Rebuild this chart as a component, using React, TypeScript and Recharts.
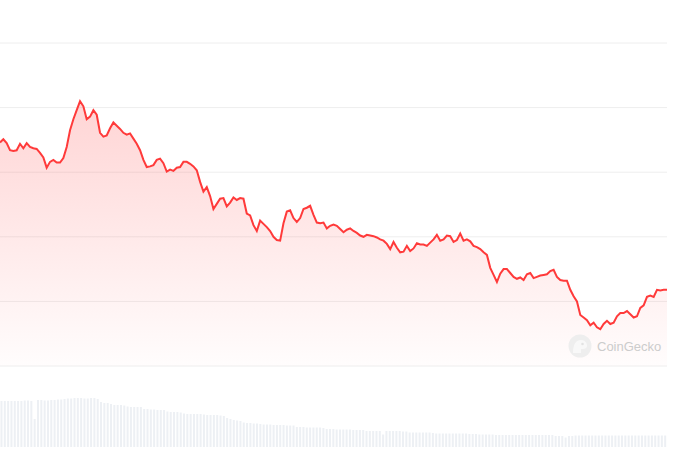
import { AreaChart, Area, BarChart, Bar, XAxis, YAxis, CartesianGrid } from "recharts";

// price readings, one per day, left to right
const prices = [
  34.6, 35.1, 34.5, 33.4, 33.3, 33.4, 34.4, 33.7, 34.5, 33.9,
  33.7, 33.6, 33.0, 32.3, 30.7, 31.6, 31.9, 31.5, 31.5, 32.2,
  33.9, 36.5, 38.2, 39.6, 41.0, 40.2, 38.2, 38.6, 39.6, 38.9,
  36.1, 35.5, 35.7, 36.8, 37.7, 37.2, 36.7, 36.1, 35.8, 36.0,
  35.2, 34.4, 33.4, 31.9, 30.8, 30.9, 31.1, 31.9, 32.1, 31.4,
  30.1, 30.4, 30.2, 30.7, 30.8, 31.6, 31.6, 31.3, 30.9, 30.3,
  28.5, 27.0, 27.7, 26.3, 24.3, 25.1, 25.9, 26.0, 24.7, 25.3,
  26.1, 25.7, 26.0, 25.9, 23.6, 23.3, 21.8, 20.9, 22.5, 22.0,
  21.5, 20.9, 20.0, 19.5, 19.4, 22.1, 23.9, 24.1, 22.9, 22.3,
  22.9, 24.3, 24.5, 24.8, 23.4, 22.2, 22.1, 22.2, 21.3, 21.7,
  21.9, 21.7, 21.2, 20.7, 21.1, 21.3, 20.9, 20.6, 20.2, 20.0,
  20.3, 20.2, 20.1, 19.9, 19.6, 19.4, 18.9, 18.1, 19.2, 18.3,
  17.6, 17.7, 18.6, 17.8, 18.2, 19.0, 18.8, 18.8, 18.6, 19.1,
  19.6, 20.3, 19.4, 19.6, 20.2, 20.1, 19.2, 19.5, 20.5, 19.4,
  19.6, 19.3, 18.6, 18.4, 18.1, 17.6, 17.2, 15.2, 14.1, 13.0,
  14.3, 15.0, 15.0, 14.4, 13.8, 13.5, 13.7, 13.3, 14.2, 14.4,
  13.6, 13.8, 14.0, 14.1, 14.2, 14.7, 14.9, 13.8, 13.3, 13.2,
  13.2, 11.8, 10.8, 10.0, 7.9, 7.5, 7.1, 6.3, 6.7, 6.0,
  5.7, 6.5, 7.0, 6.5, 6.7, 7.7, 8.2, 8.2, 8.5, 8.0,
  7.5, 7.7, 9.0, 9.4, 10.7, 10.9, 10.7, 11.8, 11.7, 11.8,
  11.8,
];

const volumes = [
  46, 46, 46, 46, 46, 46, 46, 46.5, 46.5, 46,
  28,
  47, 47, 46.5, 46.5, 47, 47, 47.5, 47.5, 48,
  48.5, 48.5, 49, 49, 49, 48.5, 48.5, 49, 49, 48,
  45, 44, 44,
  43, 42, 42, 42, 41.5,
  40.5, 40, 40, 40, 40,
  38, 38, 37.5, 37.5, 37, 37, 37,
  35.5, 35, 35, 35, 34.5,
  33.5, 33, 33, 33, 33, 33, 32.5,
  32, 32, 32, 32, 31.5, 31,
  29, 28, 27, 26.5, 26,
  24.5, 24, 24, 23.5, 23.5, 23,
  22.5, 22.5, 22.5, 22, 22, 22, 22, 21.5, 21.5, 21.5,
  20, 20, 20, 19.5, 19.5, 19.5, 19.5, 19.5, 19,
  18, 18, 18, 17.5, 17.5, 17.5, 17.5, 17.5, 17, 17, 17, 17,
  16, 16, 16, 16, 16,
  12.5,
  16, 16, 16, 16, 16, 15.5, 15.5,
  14.5, 14.5, 14.5, 14.5, 14.5, 14.5, 14.5, 14,
  13.5, 13.5, 13.5, 13.5, 13.5, 13.5, 13.5, 13.5, 13.5, 13.5,
  13, 13, 13, 12.5, 12.5, 12.5, 12.5, 12.5,
  12, 12, 12, 12, 12, 12, 12, 12, 12, 12, 12, 12, 12, 12, 12, 12, 12, 12,
  11, 11, 11, 9.5, 11, 11,
  11.5, 11.5, 11.5, 11.5, 11.5, 11.5, 11.5, 11.5, 11.5, 11.5,
  11.5, 11.5, 11.5, 11.5, 11.5, 11.5, 11.5, 11.5, 11.5, 11.5,
  11.5, 11.5, 11.5, 11.5, 11.5, 11.5, 11.5, 11.5,
];

const priceTicks = [0, 10, 20, 30, 40, 50];

const data = prices.map((p, i) => ({ day: i, price: p, volume: volumes[i] ?? 0 }));

function Watermark() {
  return (
    <div style={{ position: "absolute", left: 568, top: 334, display: "flex", alignItems: "center" }}>
      <svg width={24} height={24}>
        <circle cx={12} cy={12} r={11.5} fill="#eeeeee" />
        <path d="M5 19 C5 10 8 6 13 6 C17 6 19 9 19 12 C19 14 17 15 15 15 L13 15 L13 19 Z" fill="#f8f8f8" />
        <circle cx={14.5} cy={10} r={1.3} fill="#e2e2e2" />
      </svg>
      <span
        style={{
          marginLeft: 5,
          fontFamily: "'Liberation Sans', Arial, sans-serif",
          fontSize: 13,
          color: "#cccccc",
        }}
      >
        CoinGecko
      </span>
    </div>
  );
}

export default function App() {
  return (
    <div style={{ position: "absolute", left: 0, top: 0, width: 674, height: 449, background: "#fff" }}>
      <div style={{ position: "absolute", left: 0, top: 0 }}>
        <AreaChart width={674} height={367} data={data} margin={{ top: 43, right: 7, bottom: 1, left: 0 }}>
          <defs>
            <linearGradient id="priceFill" x1="0" y1="0" x2="0" y2="1">
              <stop offset="0%" stopColor="#ff3a3a" stopOpacity={0.36} />
              <stop offset="100%" stopColor="#ff3a3a" stopOpacity={0.02} />
            </linearGradient>
          </defs>
          <CartesianGrid vertical={false} stroke="#eeeeee" />
          <XAxis dataKey="day" hide />
          <YAxis hide domain={[0, 50]} ticks={priceTicks} />
          <Area
            type="linear"
            dataKey="price"
            stroke="#ff3a3a"
            strokeWidth={2}
            fill="url(#priceFill)"
            dot={false}
            activeDot={false}
            isAnimationActive={false}
          />
        </AreaChart>
      </div>
      <div style={{ position: "absolute", left: 0, top: 380 }}>
        <BarChart width={674} height={69} data={data} margin={{ top: 0, right: 7, bottom: 2, left: 0 }} barCategoryGap="15%">
          <XAxis dataKey="day" hide />
          <YAxis hide domain={[0, 67]} />
          <Bar dataKey="volume" fill="#edf0f4" isAnimationActive={false} />
        </BarChart>
      </div>
      <Watermark />
    </div>
  );
}
